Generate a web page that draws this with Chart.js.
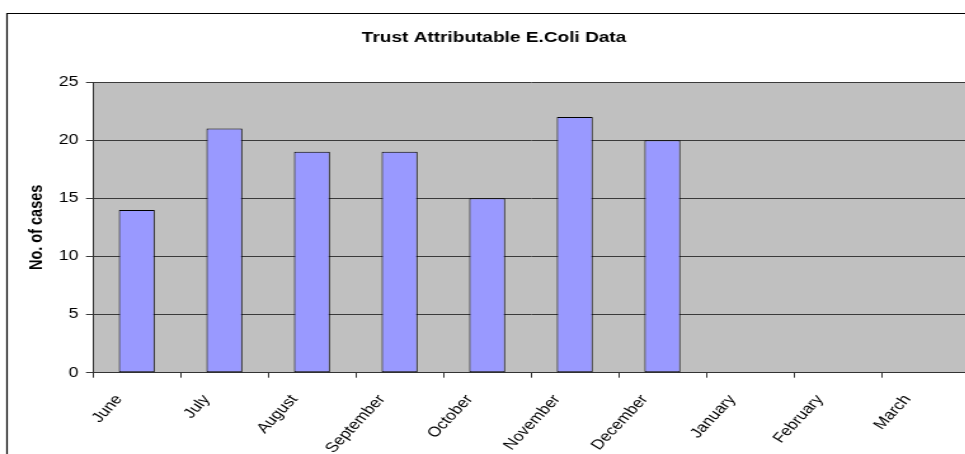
<!DOCTYPE html>
<html>
<head>
<meta charset="utf-8">
<title>Trust Attributable E.Coli Data</title>
<style>
  html, body { margin: 0; padding: 0; background: #fff; overflow: hidden; width: 965px; height: 454px; }
  /* the chart is laid out on a narrower canvas and widened horizontally */
  #wrap { position: absolute; left: 0; top: 0; width: 770px; height: 454px; transform: scaleX(1.27); transform-origin: 0 0; }
  canvas { display: block; }
</style>
<script src="https://cdn.jsdelivr.net/npm/chart.js@4/dist/chart.umd.min.js"></script>
</head>
<body>
<div id="wrap"><canvas id="chart" width="770" height="454"></canvas></div>
<script>
// Monthly counts of trust-attributable E.coli cases
const months = ['June', 'July', 'August', 'September', 'October', 'November', 'December', 'January', 'February', 'March'];
const cases = [14, 21, 19, 19, 15, 22, 20, null, null, null];
const yTickValues = [0, 5, 10, 15, 20, 25];
const chartTitle = 'Trust Attributable E.Coli Data';
const yAxisTitle = 'No. of cases';

const FONT = '"Liberation Sans", Arial, Helvetica, sans-serif';

// grey plot background
const plotBackground = {
  id: 'plotBackground',
  beforeDraw(chart) {
    const { ctx, chartArea: a } = chart;
    ctx.save();
    ctx.fillStyle = '#C0C0C0';
    ctx.fillRect(a.left, a.top, a.right - a.left, a.bottom - a.top);
    ctx.restore();
  }
};

// outer chart frame (top and left edges)
const outerFrame = {
  id: 'outerFrame',
  afterDraw(chart) {
    const ctx = chart.ctx;
    ctx.save();
    ctx.strokeStyle = '#000';
    ctx.lineWidth = 1.2;
    ctx.beginPath();
    ctx.moveTo(5.5, chart.height + 2);
    ctx.lineTo(5.5, 13.5);
    ctx.lineTo(chart.width + 2, 13.5);
    ctx.stroke();
    ctx.restore();
  }
};

new Chart(document.getElementById('chart'), {
  type: 'bar',
  data: {
    labels: months,
    datasets: [{
      data: cases,
      backgroundColor: '#9999FF',
      borderColor: '#000',
      borderWidth: 1,
      borderSkipped: false,
      categoryPercentage: 1,
      barPercentage: 0.41
    }]
  },
  options: {
    responsive: false,
    animation: false,
    devicePixelRatio: 1,
    layout: { padding: { left: 15, right: 7, top: 0, bottom: 0 } },
    plugins: {
      legend: { display: false },
      tooltip: { enabled: false },
      title: {
        display: true,
        text: chartTitle,
        color: '#000',
        font: { family: FONT, size: 15, weight: 'bold', lineHeight: 1.2 },
        padding: { top: 28.8, bottom: 35.2 }
      }
    },
    scales: {
      x: {
        offset: true,
        afterFit(scale) { scale.height = 81.3; },
        grid: { offset: true, drawOnChartArea: false, drawTicks: true, tickLength: 5, color: '#333', lineWidth: 1 },
        border: { color: '#333', width: 1 },
        ticks: {
          autoSkip: false,
          minRotation: 53,
          maxRotation: 53,
          padding: 14,
          labelOffset: -14,
          color: '#000',
          font: { family: FONT, size: 14 }
        }
      },
      y: {
        min: 0,
        max: 25,
        afterBuildTicks(scale) { scale.ticks = yTickValues.map(v => ({ value: v })); },
        afterFit(scale) { scale.width = 58.2; },
        grid: { color: '#3a3a3a', lineWidth: 1, drawTicks: true, tickLength: 5.5 },
        border: { color: '#333', width: 1 },
        ticks: { padding: 6, color: '#000', font: { family: FONT, size: 14 } },
        title: {
          display: true,
          text: yAxisTitle,
          color: '#000',
          font: { family: FONT, size: 14.5, weight: 'bold', lineHeight: 1.2 },
          padding: { top: 5, bottom: 0 }
        }
      }
    }
  },
  plugins: [plotBackground, outerFrame]
});
</script>
</body>
</html>
